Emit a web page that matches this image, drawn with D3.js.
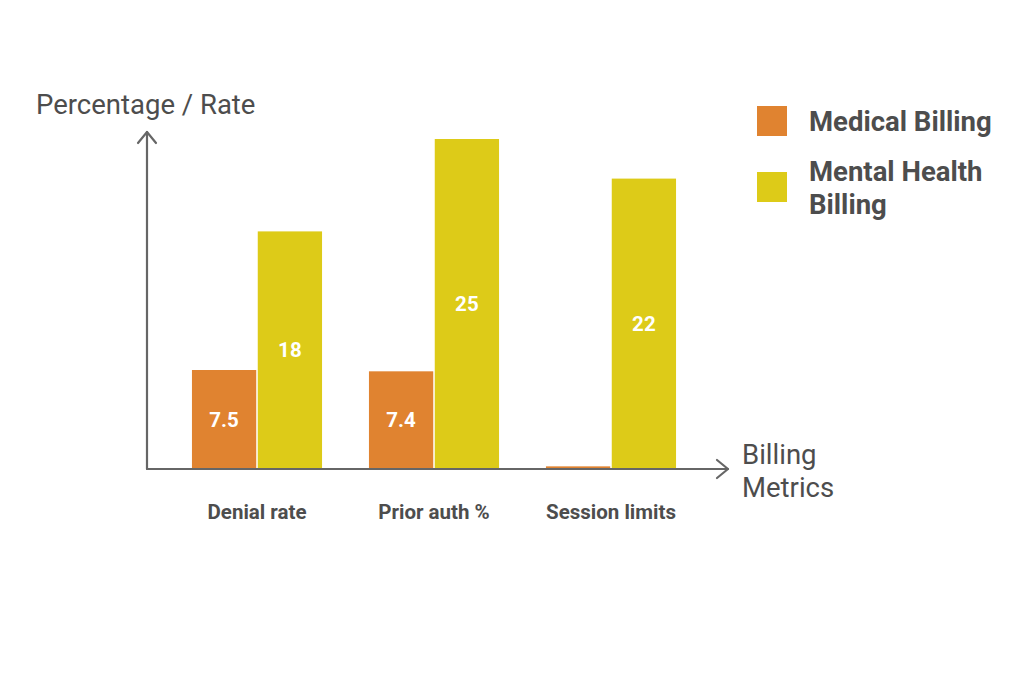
<!DOCTYPE html>
<html>
<head>
<meta charset="utf-8">
<script src="https://cdn.jsdelivr.net/npm/d3@7"></script>
<style>
  html, body { margin: 0; padding: 0; background: #fff; }
  svg { display: block; font-family: Roboto, "Noto Sans", sans-serif; }
</style>
</head>
<body>
<svg width="1024" height="683"></svg>
<script>
const categories = ["Denial rate", "Prior auth %", "Session limits"];
const seriesNames = ["Medical Billing", "Mental Health Billing"];
const medicalValues = [7.5, 7.4, 0.2];
const mentalValues = [18, 25, 22];
const medicalLabels = ["7.5", "7.4", ""];
const mentalLabels = ["18", "25", "22"];

const colors = { "Medical Billing": "#e08330", "Mental Health Billing": "#ddcb18" };
const textColor = "#4d4d4d";
const axisColor = "#666666";

const rows = categories.map((c, i) => ({
  category: c,
  values: [
    { series: seriesNames[0], value: medicalValues[i], label: medicalLabels[i] },
    { series: seriesNames[1], value: mentalValues[i], label: mentalLabels[i] }
  ]
}));

const svg = d3.select("svg");

const x0 = d3.scaleBand()
  .domain(categories)
  .range([168.5, 699.5])
  .paddingInner(0.265)
  .paddingOuter(0.1325);

const x1 = d3.scaleBand()
  .domain(seriesNames)
  .range([0, x0.bandwidth()])
  .paddingInner(0.023);

const y = d3.scaleLinear().domain([0, 25]).range([469, 139]);

// bars
const groups = svg.selectAll("g.group")
  .data(rows)
  .enter()
  .append("g")
  .attr("class", "group")
  .attr("transform", d => `translate(${x0(d.category)},0)`);

groups.selectAll("rect")
  .data(d => d.values)
  .enter()
  .append("rect")
  .attr("x", d => x1(d.series))
  .attr("y", d => y(d.value))
  .attr("width", x1.bandwidth())
  .attr("height", d => y(0) - y(d.value))
  .attr("fill", d => colors[d.series]);

groups.selectAll("text.val")
  .data(d => d.values)
  .enter()
  .append("text")
  .attr("class", "val")
  .attr("x", d => x1(d.series) + x1.bandwidth() / 2)
  .attr("y", d => (y(d.value) + y(0)) / 2)
  .attr("dy", "0.35em")
  .attr("text-anchor", "middle")
  .attr("fill", "#fff")
  .style("font-size", "20.5px")
  .style("font-weight", "bold")
  .text(d => d.label);

// axes with arrows
const axisG = svg.append("g")
  .attr("stroke", axisColor)
  .attr("stroke-width", 2.2)
  .attr("fill", "none")
  .attr("stroke-linecap", "round")
  .attr("stroke-linejoin", "round");

axisG.append("line").attr("x1", 147).attr("y1", y(0)).attr("x2", 147).attr("y2", 132);
axisG.append("path").attr("d", "M138,143 L147,132 L156,143");
axisG.append("line").attr("x1", 147).attr("y1", y(0)).attr("x2", 728).attr("y2", y(0));
axisG.append("path").attr("d", `M717,${y(0) - 9} L728,${y(0)} L717,${y(0) + 9}`);

// category labels
svg.selectAll("text.cat")
  .data(categories)
  .enter()
  .append("text")
  .attr("class", "cat")
  .attr("x", d => x0(d) + x0.bandwidth() / 2)
  .attr("y", 519)
  .attr("text-anchor", "middle")
  .attr("fill", textColor)
  .style("font-size", "20.5px")
  .style("font-weight", "bold")
  .text(d => d);

// axis titles
svg.append("text")
  .attr("x", 36)
  .attr("y", 114)
  .attr("fill", textColor)
  .style("font-size", "27.5px")
  .text("Percentage / Rate");

const xTitle = svg.append("text")
  .attr("x", 742)
  .attr("fill", textColor)
  .style("font-size", "27.5px");
xTitle.append("tspan").attr("x", 742).attr("y", 464).text("Billing");
xTitle.append("tspan").attr("x", 742).attr("y", 497).text("Metrics");

// legend
const legendItems = [
  { name: seriesNames[0], lines: ["Medical Billing"], top: 106 },
  { name: seriesNames[1], lines: ["Mental Health", "Billing"], top: 172 }
];

const legend = svg.selectAll("g.legend")
  .data(legendItems)
  .enter()
  .append("g")
  .attr("class", "legend");

legend.append("rect")
  .attr("x", 757)
  .attr("y", d => d.top)
  .attr("width", 30)
  .attr("height", 30)
  .attr("fill", d => colors[d.name]);

legend.append("text")
  .attr("fill", textColor)
  .style("font-size", "27.5px")
  .style("font-weight", "bold")
  .each(function (d) {
    const t = d3.select(this);
    const firstBase = d.lines.length === 1 ? d.top + 25 : d.top + 9;
    d.lines.forEach((line, i) => {
      t.append("tspan").attr("x", 809).attr("y", firstBase + i * 33).text(line);
    });
  });
</script>
</body>
</html>
